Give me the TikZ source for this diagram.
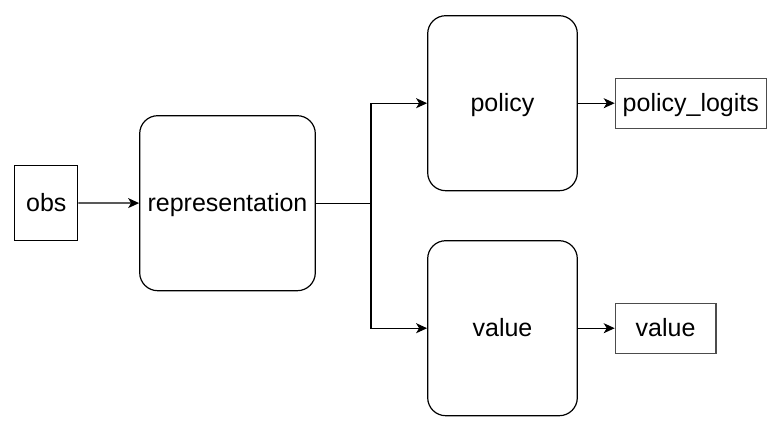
\documentclass[tikz,border=0pt]{standalone}
\usepackage{fontspec}
\setmainfont{Liberation Sans}
\usetikzlibrary{arrows.meta, positioning}
\tikzset{every picture/.style={font issue=\fontsize{25}{30}},
         font issue/.style={execute at begin picture={#1\selectfont}},
         label text/.style={text height=22.6pt, text depth=5.3pt},
         netbox/.style={draw, label text, line width=1.2pt, rounded corners=18pt, minimum height=175pt, inner sep=0pt},
         iobox/.style={draw, label text, line width=1.2pt, inner sep=0pt},
         outbox/.style={iobox, draw=black!70, minimum height=50pt, anchor=west},
         flow/.style={line width=1.2pt, -{Stealth[length=11pt, width=10pt, inset=3pt]}}
        }

\begin{document}
\begin{tikzpicture}[x=1pt, y=1pt]
        \useasboundingbox (0,0) rectangle (776,-433);
        \node [iobox, minimum width=63pt, minimum height=75pt] (obs) at (46.3,-203) {obs};
        \node [netbox, minimum width=175.6pt] (representation) at (227.5,-203.2) {representation};
        \node [netbox, minimum width=149.6pt] (policy) at (502.5,-103.2) {policy};
        \node [netbox, minimum width=149.6pt] (value) at (502.5,-328.2) {value};
        \node [outbox, minimum width=151pt] (policy_logits) at (614.7,-103.2) {policy\_logits};
        \node [outbox, minimum width=100.6pt] (value_out) at (614.7,-328.2) {value};
        \coordinate (fork) at (371,-203.2);
        \draw [flow] (obs) -- (representation);
        \draw [line width=1.2pt] (representation) -- (fork);
        \draw [flow] (fork) |- (policy);
        \draw [flow] (fork) |- (value);
        \draw [flow] (policy) -- (policy_logits);
        \draw [flow] (value) -- (value_out);
      \end{tikzpicture}
\end{document}
